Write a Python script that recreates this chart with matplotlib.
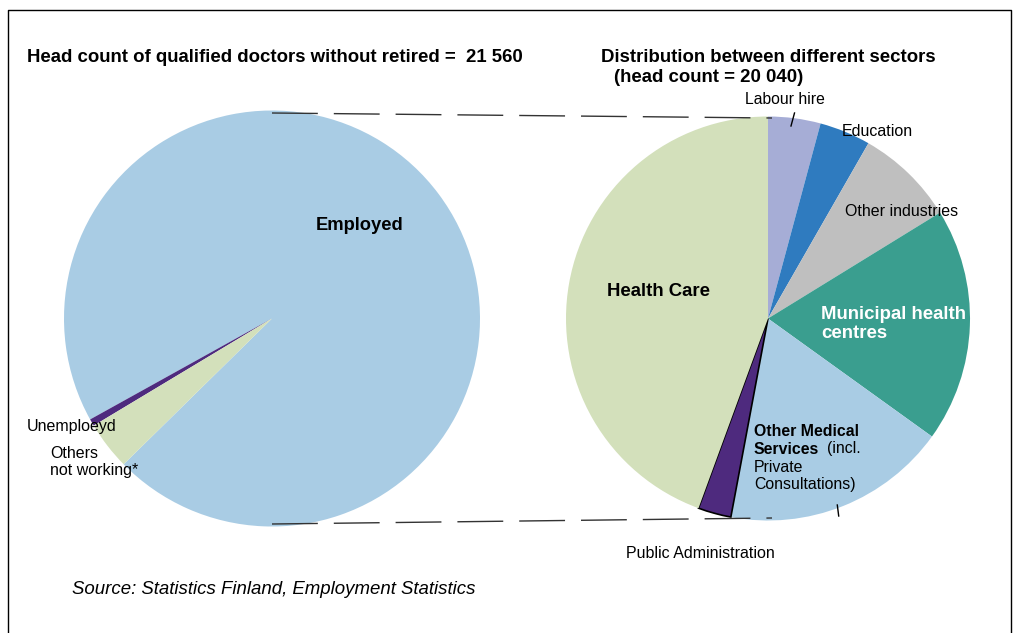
import matplotlib.pyplot as plt

plt.rcParams['font.family'] = ['Liberation Sans', 'DejaVu Sans']

# Left pie: all qualified doctors (head count 21 560)
status_labels = ['Employed', 'Unemploeyd', 'Others\nnot working*']
status_values = [20040, 115, 785]
status_colors = ['#A9CCE4', '#4E2A7E', '#D3E0BB']

# Right pie: employed doctors by sector (head count 20 040), clockwise from top
sector_labels = ['Labour hire', 'Education', 'Other industries',
                 'Municipal health centres', 'Other Medical Services',
                 'Public Administration', 'Health Care']
sector_values = [840, 820, 1590, 3750, 3610, 530, 8900]
sector_colors = ['#A6ADD6', '#2F7BBF', '#BFBFBF', '#3A9E8F', '#A9CCE4',
                 '#4E2A7E', '#D3E0BB']

H = 633  # figure height in px, text positions are given from the top


def Y(y):
    return H - y


fig = plt.figure(figsize=(10.21, 6.33), dpi=100)
ax = fig.add_axes([0, 0, 1, 1])

left_c, left_r = (272, Y(318.5)), 208
right_c, right_r = (768, Y(318.5)), 202

ax.pie(status_values, colors=status_colors, startangle=224.5,
       counterclock=True, center=left_c, radius=left_r,
       wedgeprops=dict(linewidth=0))

wedges, _ = ax.pie(sector_values, colors=sector_colors, startangle=90,
                   counterclock=False, center=right_c, radius=right_r,
                   wedgeprops=dict(linewidth=0))
# public administration slice has a black outline
wedges[5].set_edgecolor('black')
wedges[5].set_linewidth(1.2)

# dashed connector lines between the pies
dash = dict(color='#333333', lw=1.0, dashes=(33, 11.5))
ax.plot([left_c[0], right_c[0] + 4], [Y(113), Y(118)], **dash)
ax.plot([left_c[0], right_c[0] + 4], [Y(524), Y(518)], **dash)

# leader lines
ax.plot([791, 794.5], [Y(126), Y(113)], color='black', lw=1)
ax.plot([837.3, 838.7], [Y(505), Y(516)], color='black', lw=1)

# frame
ax.plot([8, 8, 1011, 1011], [-2, Y(10), Y(10), -2], color='black', lw=1)

ax.set_xlim(0, 1021)
ax.set_ylim(0, H)
ax.axis('off')

# titles
ax.text(27, Y(58), 'Head count of qualified doctors without retired =  21 560',
        fontsize=13.4, fontweight='bold', va='center')
ax.text(601, Y(58), 'Distribution between different sectors',
        fontsize=13.4, fontweight='bold', va='center')
ax.text(614, Y(77), '(head count = 20 040)',
        fontsize=13.4, fontweight='bold', va='center')

# left pie labels
ax.text(360, Y(226), status_labels[0], fontsize=13.2, fontweight='bold',
        ha='center', va='center')
ax.text(27, Y(426), status_labels[1], fontsize=11.5, va='center')
ax.text(50, Y(462), status_labels[2], fontsize=11.5, va='center',
        linespacing=1.2)

# right pie labels
ax.text(785, Y(100), sector_labels[0], fontsize=11.3, ha='center',
        va='center')
ax.text(842, Y(131), sector_labels[1], fontsize=11.5, va='center')
ax.text(845, Y(212), sector_labels[2], fontsize=11.5, va='center')
ax.text(821, Y(324), 'Municipal health\ncentres', fontsize=13.4,
        color='white', fontweight='bold', va='center', linespacing=1.15)
ax.text(754, Y(431), 'Other Medical', fontsize=11.4, fontweight='bold',
        va='center')
ax.text(754, Y(449), 'Services', fontsize=11.4, fontweight='bold',
        va='center')
ax.text(827, Y(449), '(incl.', fontsize=11.4, va='center')
ax.text(754, Y(467), 'Private', fontsize=11.4, va='center')
ax.text(754, Y(485), 'Consultations)', fontsize=11.4, va='center')
ax.text(626, Y(553), sector_labels[5], fontsize=11.5, va='center')
ax.text(658, Y(292), sector_labels[6], fontsize=13.4, fontweight='bold',
        ha='center', va='center')

ax.text(72, Y(590), 'Source: Statistics Finland, Employment Statistics',
        fontsize=13.4, style='italic', va='center')

fig.savefig('out.png', dpi=100)
